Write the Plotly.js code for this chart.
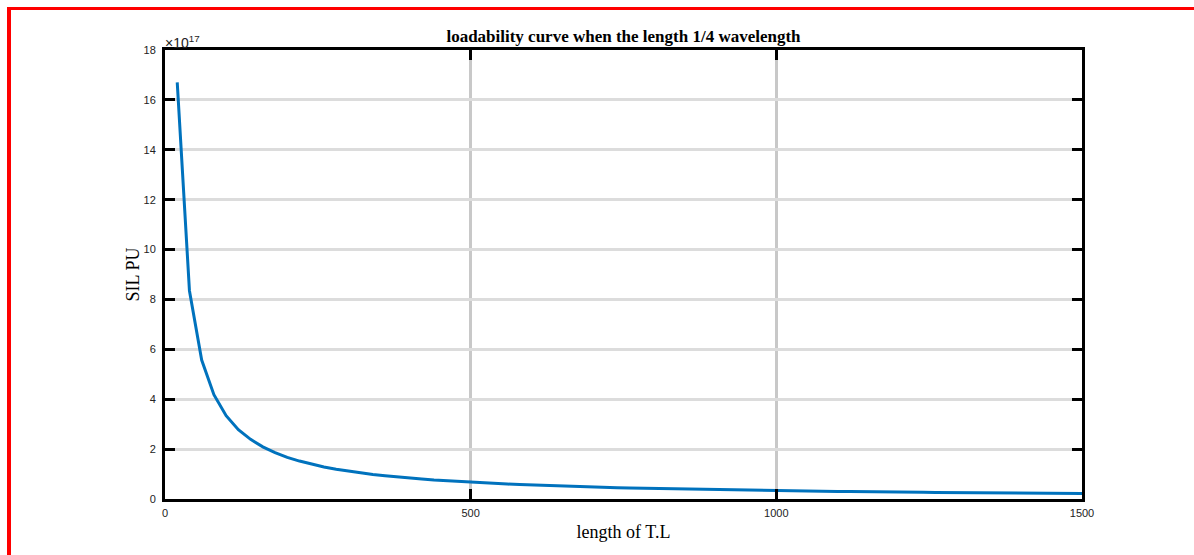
<!DOCTYPE html>
<html>
<head>
<meta charset="utf-8">
<script src="https://cdn.plot.ly/plotly-3.0.1.min.js"></script>
<style>
  html, body { margin: 0; padding: 0; background: #fff; }
  #wrap { position: relative; width: 1194px; height: 555px; overflow: hidden; }
  #chart { position: absolute; left: 0; top: 0; width: 1194px; height: 555px; }
  #frame { position: absolute; left: 7px; top: 7px; width: 1300px; height: 700px;
           border-top: 3px solid #ff0000; border-left: 4px solid #ff0000; pointer-events: none; }
</style>
</head>
<body>
<div id="wrap">
  <div id="chart"></div>
  <div id="frame"></div>
</div>
<script>
// length of transmission line
const lengthTL = [20,40,60,80,100,120,140,160,180,200,220,240,260,280,300,320,340,360,380,400,
  420,440,460,480,500,520,540,560,580,600,620,640,660,680,700,720,740,760,780,800,
  820,840,860,880,900,920,940,960,980,1000,1020,1040,1060,1080,1100,1120,1140,1160,1180,1200,
  1220,1240,1260,1280,1300,1320,1340,1360,1380,1400,1420,1440,1460,1480,1500];
// SIL PU, in units of 1e17
const silPU = [16.70,8.35,5.57,4.18,3.34,2.78,2.39,2.09,1.86,1.67,1.52,1.39,1.28,1.19,1.11,1.04,0.98,0.93,0.88,0.84,
  0.80,0.76,0.73,0.70,0.67,0.64,0.62,0.60,0.58,0.56,0.54,0.52,0.51,0.49,0.48,0.46,0.45,0.44,0.43,0.42,
  0.41,0.40,0.39,0.38,0.37,0.36,0.355,0.35,0.34,0.334,0.33,0.32,0.315,0.31,0.30,0.30,0.29,0.29,0.28,0.28,
  0.27,0.27,0.265,0.26,0.257,0.253,0.25,0.245,0.242,0.239,0.235,0.232,0.229,0.226,0.223];
const xTicks = [0,500,1000,1500];
const yTicks = [0,2,4,6,8,10,12,14,16,18];
const titleText = 'loadability curve when the length 1/4 wavelength';
const xTitle = 'length of T.L';
const yTitle = 'SIL PU';
const expLabel = '\u00d710<sup>17</sup>';

const tickFont = {family: '"Liberation Sans", Arial, sans-serif', size: 11, color: '#222222'};
const serif = '"Liberation Serif", "Times New Roman", serif';

Plotly.newPlot('chart', [{
  x: lengthTL, y: silPU, type: 'scatter', mode: 'lines',
  line: {color: '#0072BD', width: 3}, hoverinfo: 'skip'
}], {
  width: 1194, height: 555,
  margin: {l: 165, r: 112, t: 50, b: 56},
  paper_bgcolor: '#ffffff', plot_bgcolor: '#ffffff',
  showlegend: false,
  title: {text: titleText, x: 0.5, xref: 'paper', xanchor: 'center', y: 1, yref: 'container',
          yanchor: 'top', pad: {t: 30},
          font: {family: serif, size: 17, color: '#000', weight: 'bold'}},
  xaxis: {
    range: [0, 1500], tickvals: xTicks, ticktext: xTicks.map(String),
    showline: true, linecolor: '#000', linewidth: 3, mirror: 'allticks',
    ticks: 'inside', ticklen: 10, tickwidth: 3, tickcolor: '#000',
    showgrid: true, gridcolor: '#c8c8c8', gridwidth: 3, zeroline: false,
    tickfont: tickFont, ticklabelstandoff: 2,
    title: {text: xTitle, font: {family: serif, size: 18, color: '#000'}, standoff: 8}
  },
  yaxis: {
    range: [0, 18], tickvals: yTicks, ticktext: yTicks.map(String),
    showline: true, linecolor: '#000', linewidth: 3, mirror: 'allticks',
    ticks: 'inside', ticklen: 10, tickwidth: 3, tickcolor: '#000',
    showgrid: true, gridcolor: '#dcdcdc', gridwidth: 3, zeroline: false,
    tickfont: tickFont, ticklabelstandoff: 4,
    title: {text: yTitle, font: {family: serif, size: 18, color: '#000'}, standoff: 0}
  },
  annotations: [{
    text: expLabel, xref: 'paper', yref: 'paper', x: 0, y: 1, xanchor: 'left', yanchor: 'bottom',
    showarrow: false, font: {family: tickFont.family, size: 14, color: '#222222'}, xshift: -2, yshift: -3
  }]
}, {staticPlot: true});
</script>
</body>
</html>
